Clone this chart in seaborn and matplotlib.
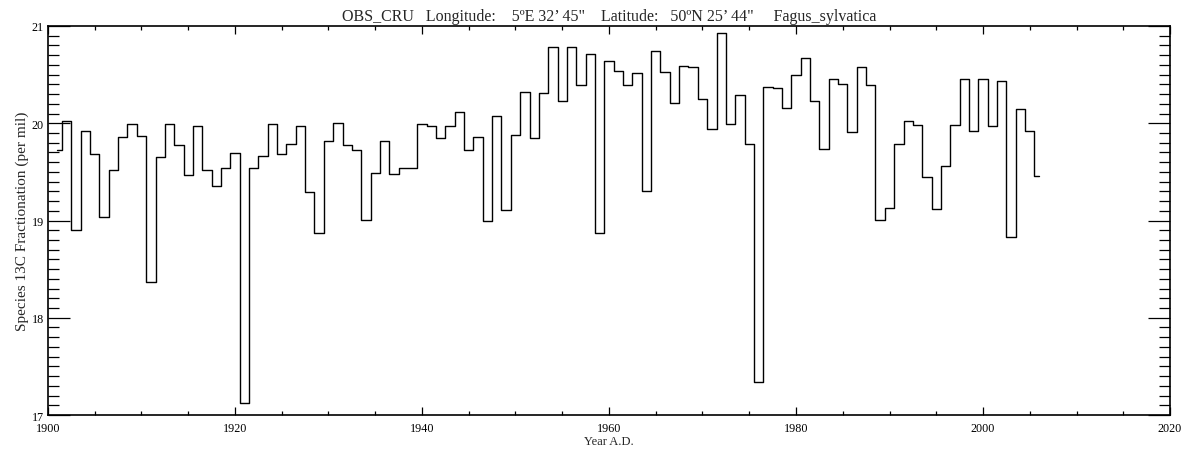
import numpy as np
import pandas as pd
import seaborn as sns
import matplotlib.pyplot as plt
from matplotlib.ticker import MultipleLocator

# yearly values
years = list(range(1901, 2007))
frac = [
    19.72, 20.02, 18.90, 19.92, 19.68, 19.04, 19.52, 19.86, 19.99, 19.87,  # 1901-1910
    18.37, 19.65, 19.99, 19.78, 19.47, 19.97, 19.52, 19.35, 19.54, 19.69,  # 1911-1920
    17.12, 19.54, 19.66, 19.99, 19.68, 19.79, 19.97, 19.29, 18.87, 19.82,  # 1921-1930
    20.00, 19.78, 19.73, 19.01, 19.49, 19.82, 19.48, 19.54, 19.54, 19.99,  # 1931-1940
    19.97, 19.85, 19.97, 20.12, 19.73, 19.86, 18.99, 20.07, 19.11, 19.88,  # 1941-1950
    20.32, 19.85, 20.31, 20.78, 20.23, 20.78, 20.39, 20.71, 18.87, 20.64,  # 1951-1960
    20.54, 20.39, 20.52, 19.30, 20.74, 20.53, 20.21, 20.59, 20.58, 20.25,  # 1961-1970
    19.94, 20.93, 19.99, 20.29, 19.79, 17.34, 20.37, 20.36, 20.16, 20.50,  # 1971-1980
    20.67, 20.23, 19.74, 20.45, 20.40, 19.91, 20.58, 20.39, 19.01, 19.13,  # 1981-1990
    19.79, 20.02, 19.98, 19.45, 19.12, 19.56, 19.98, 20.45, 19.92, 20.45,  # 1991-2000
    19.97, 20.43, 18.83, 20.15, 19.92, 19.46,                              # 2001-2006
]

title = ('OBS_CRU   Longitude:    5\u00baE 32\u2019 45"    '
         'Latitude:   50\u00baN 25\u2019 44"     Fagus_sylvatica')

df = pd.DataFrame({'year': years, 'frac': frac})

sns.set_style('ticks')
plt.rcParams['font.family'] = ['Liberation Serif', 'DejaVu Serif']

fig = plt.figure(figsize=(11.94, 4.52), dpi=100)
ax = fig.add_axes([0.0402, 0.0796, 0.9397, 0.8607])

sns.lineplot(data=df, x='year', y='frac', estimator=None, drawstyle='steps-mid',
             color='black', linewidth=1.0, ax=ax)

ax.set_xlim(1900, 2020)
ax.set_ylim(17, 21)
ax.xaxis.set_major_locator(MultipleLocator(20))
ax.xaxis.set_minor_locator(MultipleLocator(5))
ax.yaxis.set_major_locator(MultipleLocator(1))
ax.yaxis.set_minor_locator(MultipleLocator(0.1))

ax.tick_params(axis='both', which='both', direction='in', top=True, right=True,
               colors='black', labelsize=8.7, width=0.9)
ax.tick_params(axis='x', which='major', length=5.6, pad=5)
ax.tick_params(axis='x', which='minor', length=2.8)
ax.tick_params(axis='y', which='major', length=16, pad=3)
ax.tick_params(axis='y', which='minor', length=8)
for s in ax.spines.values():
    s.set_linewidth(1.2)
    s.set_color('black')

ax.set_xlabel('Year A.D.', fontsize=9, labelpad=1)
ax.set_ylabel('Species 13C Fractionation (per mil)', fontsize=11, labelpad=2)
ax.set_title(title, fontsize=11.5, pad=4)

fig.savefig('out.png', dpi=100)
